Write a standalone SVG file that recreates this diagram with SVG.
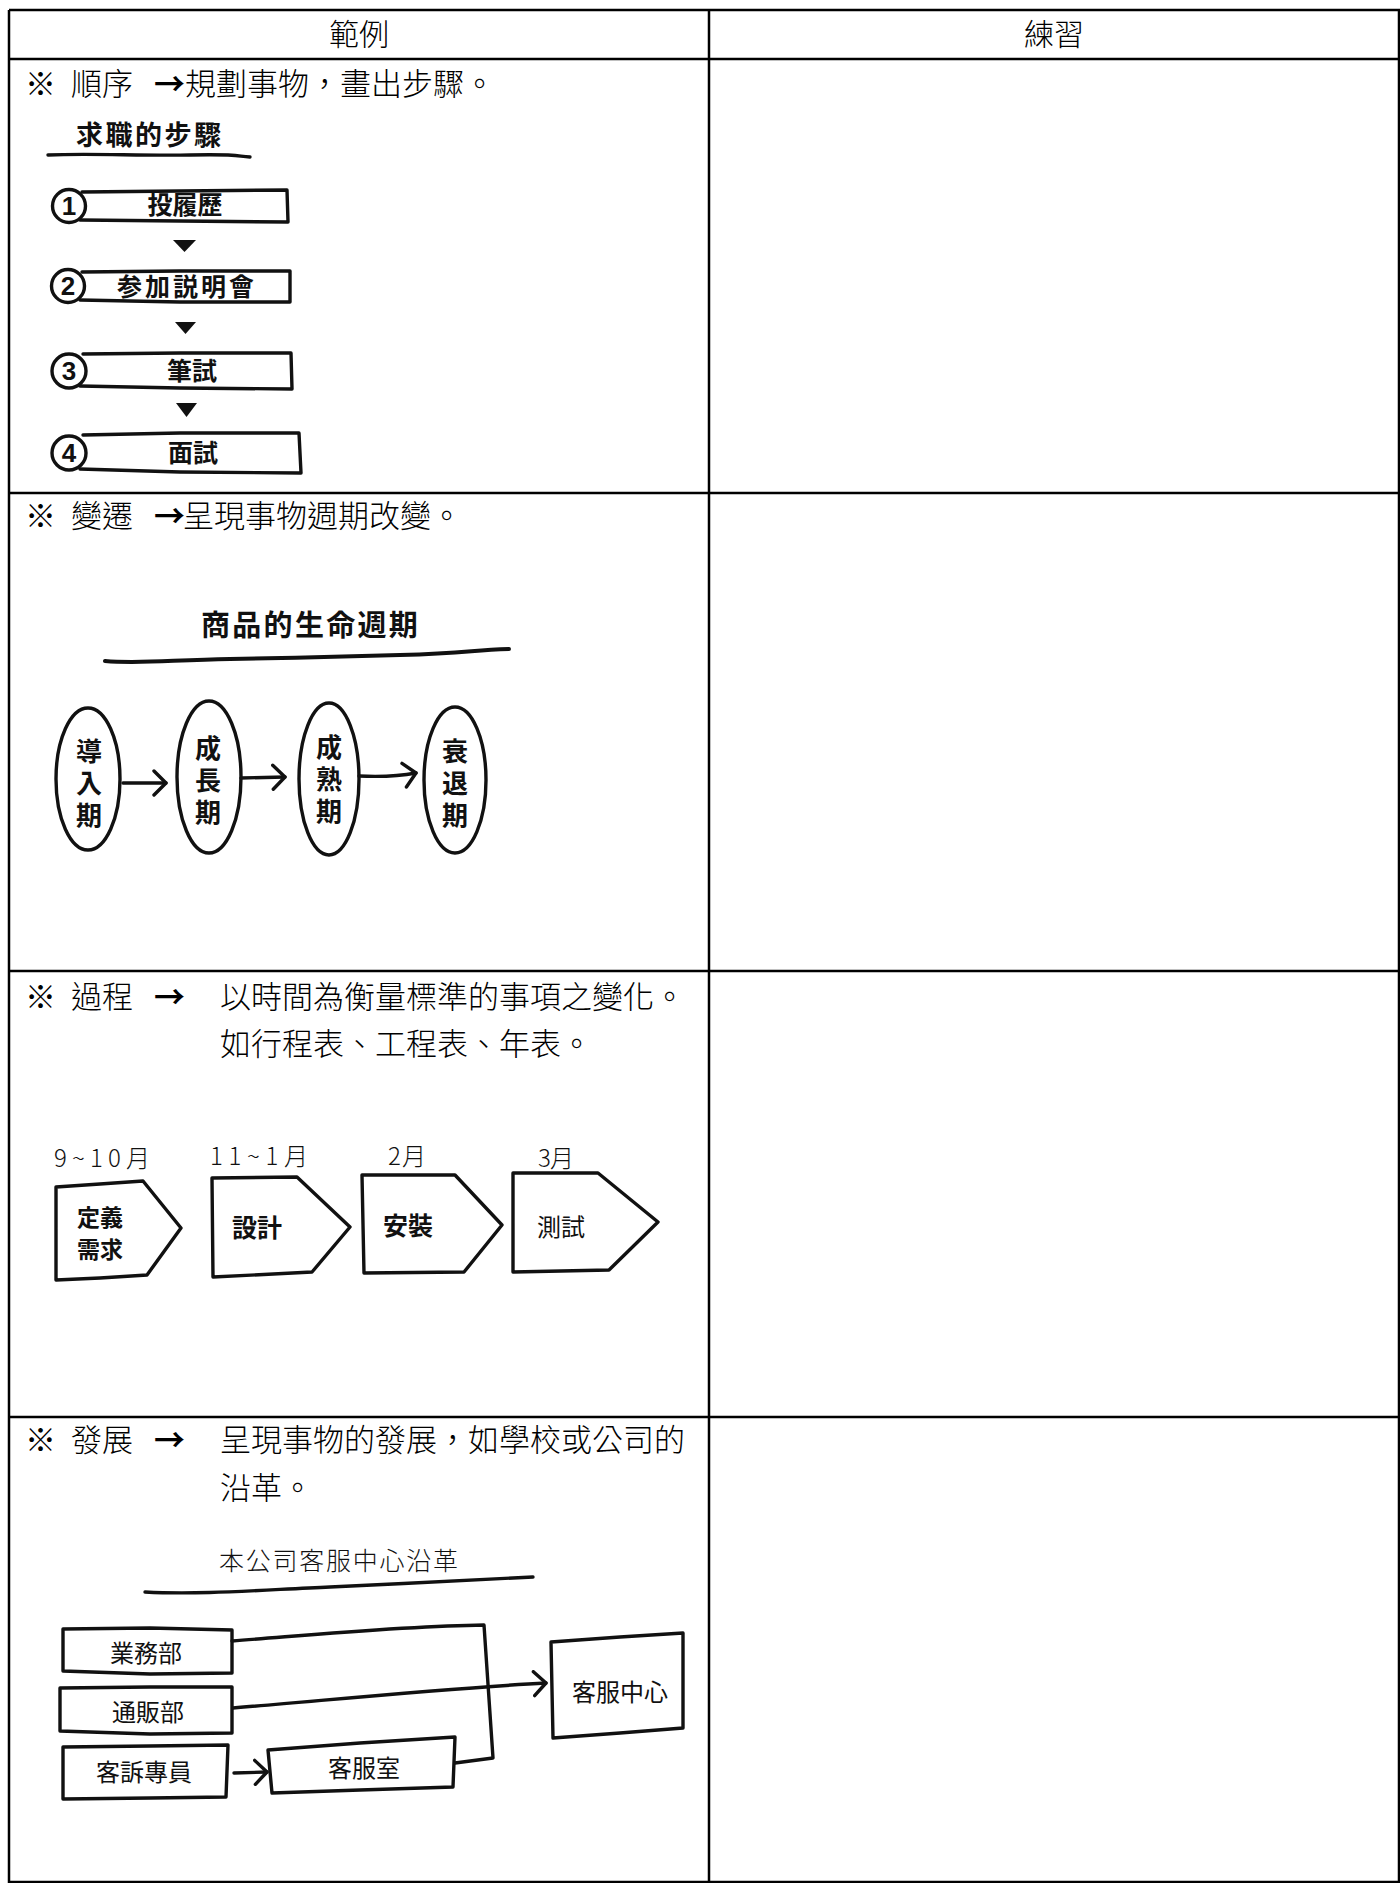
<svg xmlns="http://www.w3.org/2000/svg" width="1400" height="1883" viewBox="0 0 1400 1883">
<defs>
<style>
.grid{stroke:#000;stroke-width:2.5;fill:none}
.hand{stroke:#111;stroke-width:3.4;fill:none;stroke-linejoin:round;stroke-linecap:round}
.handw{stroke:#111;stroke-width:3.4;fill:#fff;stroke-linejoin:round}
.tri{fill:#111}
.t{font-family:"Noto Sans CJK TC","Noto Sans CJK JP",sans-serif;font-weight:300;font-size:31px;fill:#000}
.arr{font-weight:700}
.hw{font-family:"Noto Sans CJK JP","Noto Sans CJK TC",sans-serif;font-weight:700;fill:#111}
.hl{font-family:"Noto Sans CJK JP","Noto Sans CJK TC",sans-serif;font-weight:400;fill:#111}
.num{font-family:"Liberation Sans",Arial,sans-serif;font-weight:700;font-size:26px;fill:#111;text-anchor:middle}
.mid{text-anchor:middle}
.vert{writing-mode:vertical-rl;text-anchor:middle;font-size:26px;letter-spacing:6px}
</style>
<marker id="chev" markerUnits="userSpaceOnUse" viewBox="-14 -14 16 28" refX="0" refY="0" markerWidth="16" markerHeight="28" orient="auto">
<path d="M-12,-12 L0,0 L-12,12" fill="none" stroke="#111" stroke-width="3.4" stroke-linejoin="round" stroke-linecap="round"/>
</marker>
</defs>
<rect x="0" y="0" width="1400" height="1883" fill="#fff"/>

<g id="table">
<line class="grid" x1="9" y1="10" x2="1400" y2="10"/>
<line class="grid" x1="9" y1="59" x2="1400" y2="59"/>
<line class="grid" x1="9" y1="493" x2="1400" y2="493"/>
<line class="grid" x1="9" y1="971" x2="1400" y2="971"/>
<line class="grid" x1="9" y1="1417" x2="1400" y2="1417"/>
<line class="grid" x1="9" y1="1882" x2="1400" y2="1882"/>
<line class="grid" x1="9" y1="10" x2="9" y2="1883"/>
<line class="grid" x1="709" y1="10" x2="709" y2="1883"/>
<line class="grid" x1="1399" y1="10" x2="1399" y2="1883"/>
<text class="t mid" x="359" y="45" style="font-size:30px">範例</text>
<text class="t mid" x="1054" y="45" style="font-size:30px">練習</text>
</g>

<g id="row-order">
<text class="t" y="95"><tspan x="25">※</tspan><tspan x="71">順序</tspan><tspan class="arr" x="154">→</tspan><tspan x="185">規劃事物，畫出步驟。</tspan></text>
<text class="hw" x="76" y="145" style="font-size:27px;letter-spacing:2.5px">求職的步驟</text>
<path class="hand" d="M48,155 C90,153 140,156 190,155 S235,156 250,157"/>
</g>
<g id="step1">
<path class="hand" d="M82,192 L180,191 L287,190 L288,222 L180,221 L80,220"/>
<circle class="handw" cx="69" cy="206" r="16.5"/>
<text class="num" x="69" y="215">1</text>
<text class="hw mid" x="185" y="214" style="font-size:25px">投履歷</text>
</g>
<g id="step2">
<path class="hand" d="M82,272 L180,271 L290,271 L290,302 L180,302 L80,300"/>
<circle class="handw" cx="68" cy="286" r="16.5"/>
<text class="num" x="68" y="295">2</text>
<text class="hw mid" x="187" y="296" style="font-size:25px;letter-spacing:3px">参加説明會</text>
</g>
<g id="step3">
<path class="hand" d="M83,354 L180,353 L291,353 L292,389 L180,388 L80,386"/>
<circle class="handw" cx="69" cy="371" r="17"/>
<text class="num" x="69" y="380">3</text>
<text class="hw mid" x="192" y="380" style="font-size:25px">筆試</text>
</g>
<g id="step4">
<path class="hand" d="M83,435 L180,433 L299,433 L301,473 L180,472 L80,469"/>
<circle class="handw" cx="69" cy="453" r="17"/>
<text class="num" x="69" y="462">4</text>
<text class="hw mid" x="193" y="462" style="font-size:25px">面試</text>
</g>
<g id="step-arrows">
<polygon class="tri" points="173,240 196,240 184.5,252"/>
<polygon class="tri" points="175,322 196,322 185.5,334"/>
<polygon class="tri" points="176,403 197,403 186.5,417"/>
</g>

<g id="row-change">
<text class="t" y="527"><tspan x="25">※</tspan><tspan x="71">變遷</tspan><tspan class="arr" x="154">→</tspan><tspan x="183">呈現事物週期改變。</tspan></text>
<text class="hw" x="201" y="636" style="font-size:29px;letter-spacing:2.3px">商品的生命週期</text>
<path class="hand" style="stroke-width:4" d="M105,661 C140,664 170,660 230,659 S330,657 400,655 S470,650 509,649"/>
</g>
<g id="stage1">
<ellipse class="hand" cx="88" cy="779" rx="32" ry="71"/>
<text class="hw vert" x="89" y="786">導入期</text>
</g>
<g id="stage2">
<ellipse class="hand" cx="209" cy="777" rx="32" ry="76"/>
<text class="hw vert" x="208" y="783">成長期</text>
</g>
<g id="stage3">
<ellipse class="hand" cx="329" cy="779" rx="30" ry="76"/>
<text class="hw vert" x="329" y="782">成熟期</text>
</g>
<g id="stage4">
<ellipse class="hand" cx="455" cy="780" rx="31" ry="73"/>
<text class="hw vert" x="455" y="786">衰退期</text>
</g>

<g id="row-process">
<text class="t" y="1008"><tspan x="25">※</tspan><tspan x="71">過程</tspan><tspan class="arr" x="154">→</tspan><tspan x="220">以時間為衡量標準的事項之變化。</tspan></text>
<text class="t" x="220" y="1055">如行程表、工程表、年表。</text>
<text class="hl" x="54" y="1167" style="font-size:24px;font-weight:300" textLength="96" lengthAdjust="spacing">9~10月</text>
<text class="hl" x="210" y="1165" style="font-size:24px;font-weight:300" textLength="98" lengthAdjust="spacing">11~1月</text>
<text class="hl" x="388" y="1165" style="font-size:24px;font-weight:300" textLength="38" lengthAdjust="spacing">2月</text>
<text class="hl" x="538" y="1167" style="font-size:24px;font-weight:300" textLength="36" lengthAdjust="spacing">3月</text>
</g>
<g id="phase1">
<path class="hand" d="M56,1187 L100,1184 L143,1181 L181,1228 L147,1275 L100,1278 L56,1280 Z"/>
<text class="hw mid" style="font-size:23px"><tspan x="100" y="1226">定義</tspan><tspan x="100" y="1258">需求</tspan></text>
</g>
<g id="phase2">
<path class="hand" d="M212,1178 L297,1177 L350,1227 L312,1272 L213,1277 Z"/>
<text class="hw mid" x="257" y="1237" style="font-size:25px">設計</text>
</g>
<g id="phase3">
<path class="hand" d="M362,1175 L455,1175 L502,1225 L464,1272 L364,1273 Z"/>
<text class="hw mid" x="408" y="1235" style="font-size:25px">安裝</text>
</g>
<g id="phase4">
<path class="hand" d="M513,1173 L598,1173 L658,1222 L609,1270 L513,1272 Z"/>
<text class="hl mid" x="561" y="1236" style="font-size:24px">測試</text>
</g>

<g id="row-develop">
<text class="t" y="1451"><tspan x="25">※</tspan><tspan x="71">發展</tspan><tspan class="arr" x="154">→</tspan><tspan x="220">呈現事物的發展，如學校或公司的</tspan></text>
<text class="t" x="220" y="1499">沿革。</text>
<text class="hl" x="219" y="1570" style="font-size:25px;font-weight:300" textLength="239" lengthAdjust="spacing">本公司客服中心沿革</text>
<path class="hand" d="M145,1592 C200,1595 260,1590 330,1587 S450,1581 533,1577"/>
</g>
<g id="dept-sales">
<path class="hand" d="M63,1629 L150,1628 L232,1630 L232,1673 L150,1674 L63,1671 Z"/>
<text class="hl mid" x="146" y="1662" style="font-size:24px">業務部</text>
</g>
<g id="dept-mail">
<path class="hand" d="M60,1688 L150,1687 L232,1687 L232,1733 L150,1734 L60,1731 Z"/>
<text class="hl mid" x="148" y="1721" style="font-size:24px">通販部</text>
</g>
<g id="dept-complaint">
<path class="hand" d="M63,1747 L150,1746 L228,1745 L226,1797 L150,1798 L63,1799 Z"/>
<text class="hl mid" x="144" y="1781" style="font-size:24px">客訴專員</text>
</g>
<g id="dept-cs-room">
<path class="hand" d="M268,1750 L360,1743 L455,1737 L453,1787 L360,1790 L272,1793 Z"/>
<text class="hl mid" x="364" y="1777" style="font-size:24px">客服室</text>
</g>
<g id="dept-cs-center">
<path class="hand" d="M551,1642 L620,1637 L683,1633 L683,1728 L620,1733 L553,1738 Z"/>
<text class="hl mid" x="620" y="1701" style="font-size:24px">客服中心</text>
</g>

<g id="connectors">
<path class="hand" marker-end="url(#chev)" d="M123,783 L166,783"/>
<path class="hand" marker-end="url(#chev)" d="M241,778 L285,777"/>
<path class="hand" marker-end="url(#chev)" d="M359,776 C380,777 400,776 416,773"/>
<path class="hand" d="M232,1641 C300,1636 400,1626 484,1625 L493,1758 L455,1763"/>
<path class="hand" marker-end="url(#chev)" d="M233,1708 C330,1700 450,1688 546,1683"/>
<path class="hand" marker-end="url(#chev)" d="M234,1773 L267,1772"/>
</g>
</svg>
